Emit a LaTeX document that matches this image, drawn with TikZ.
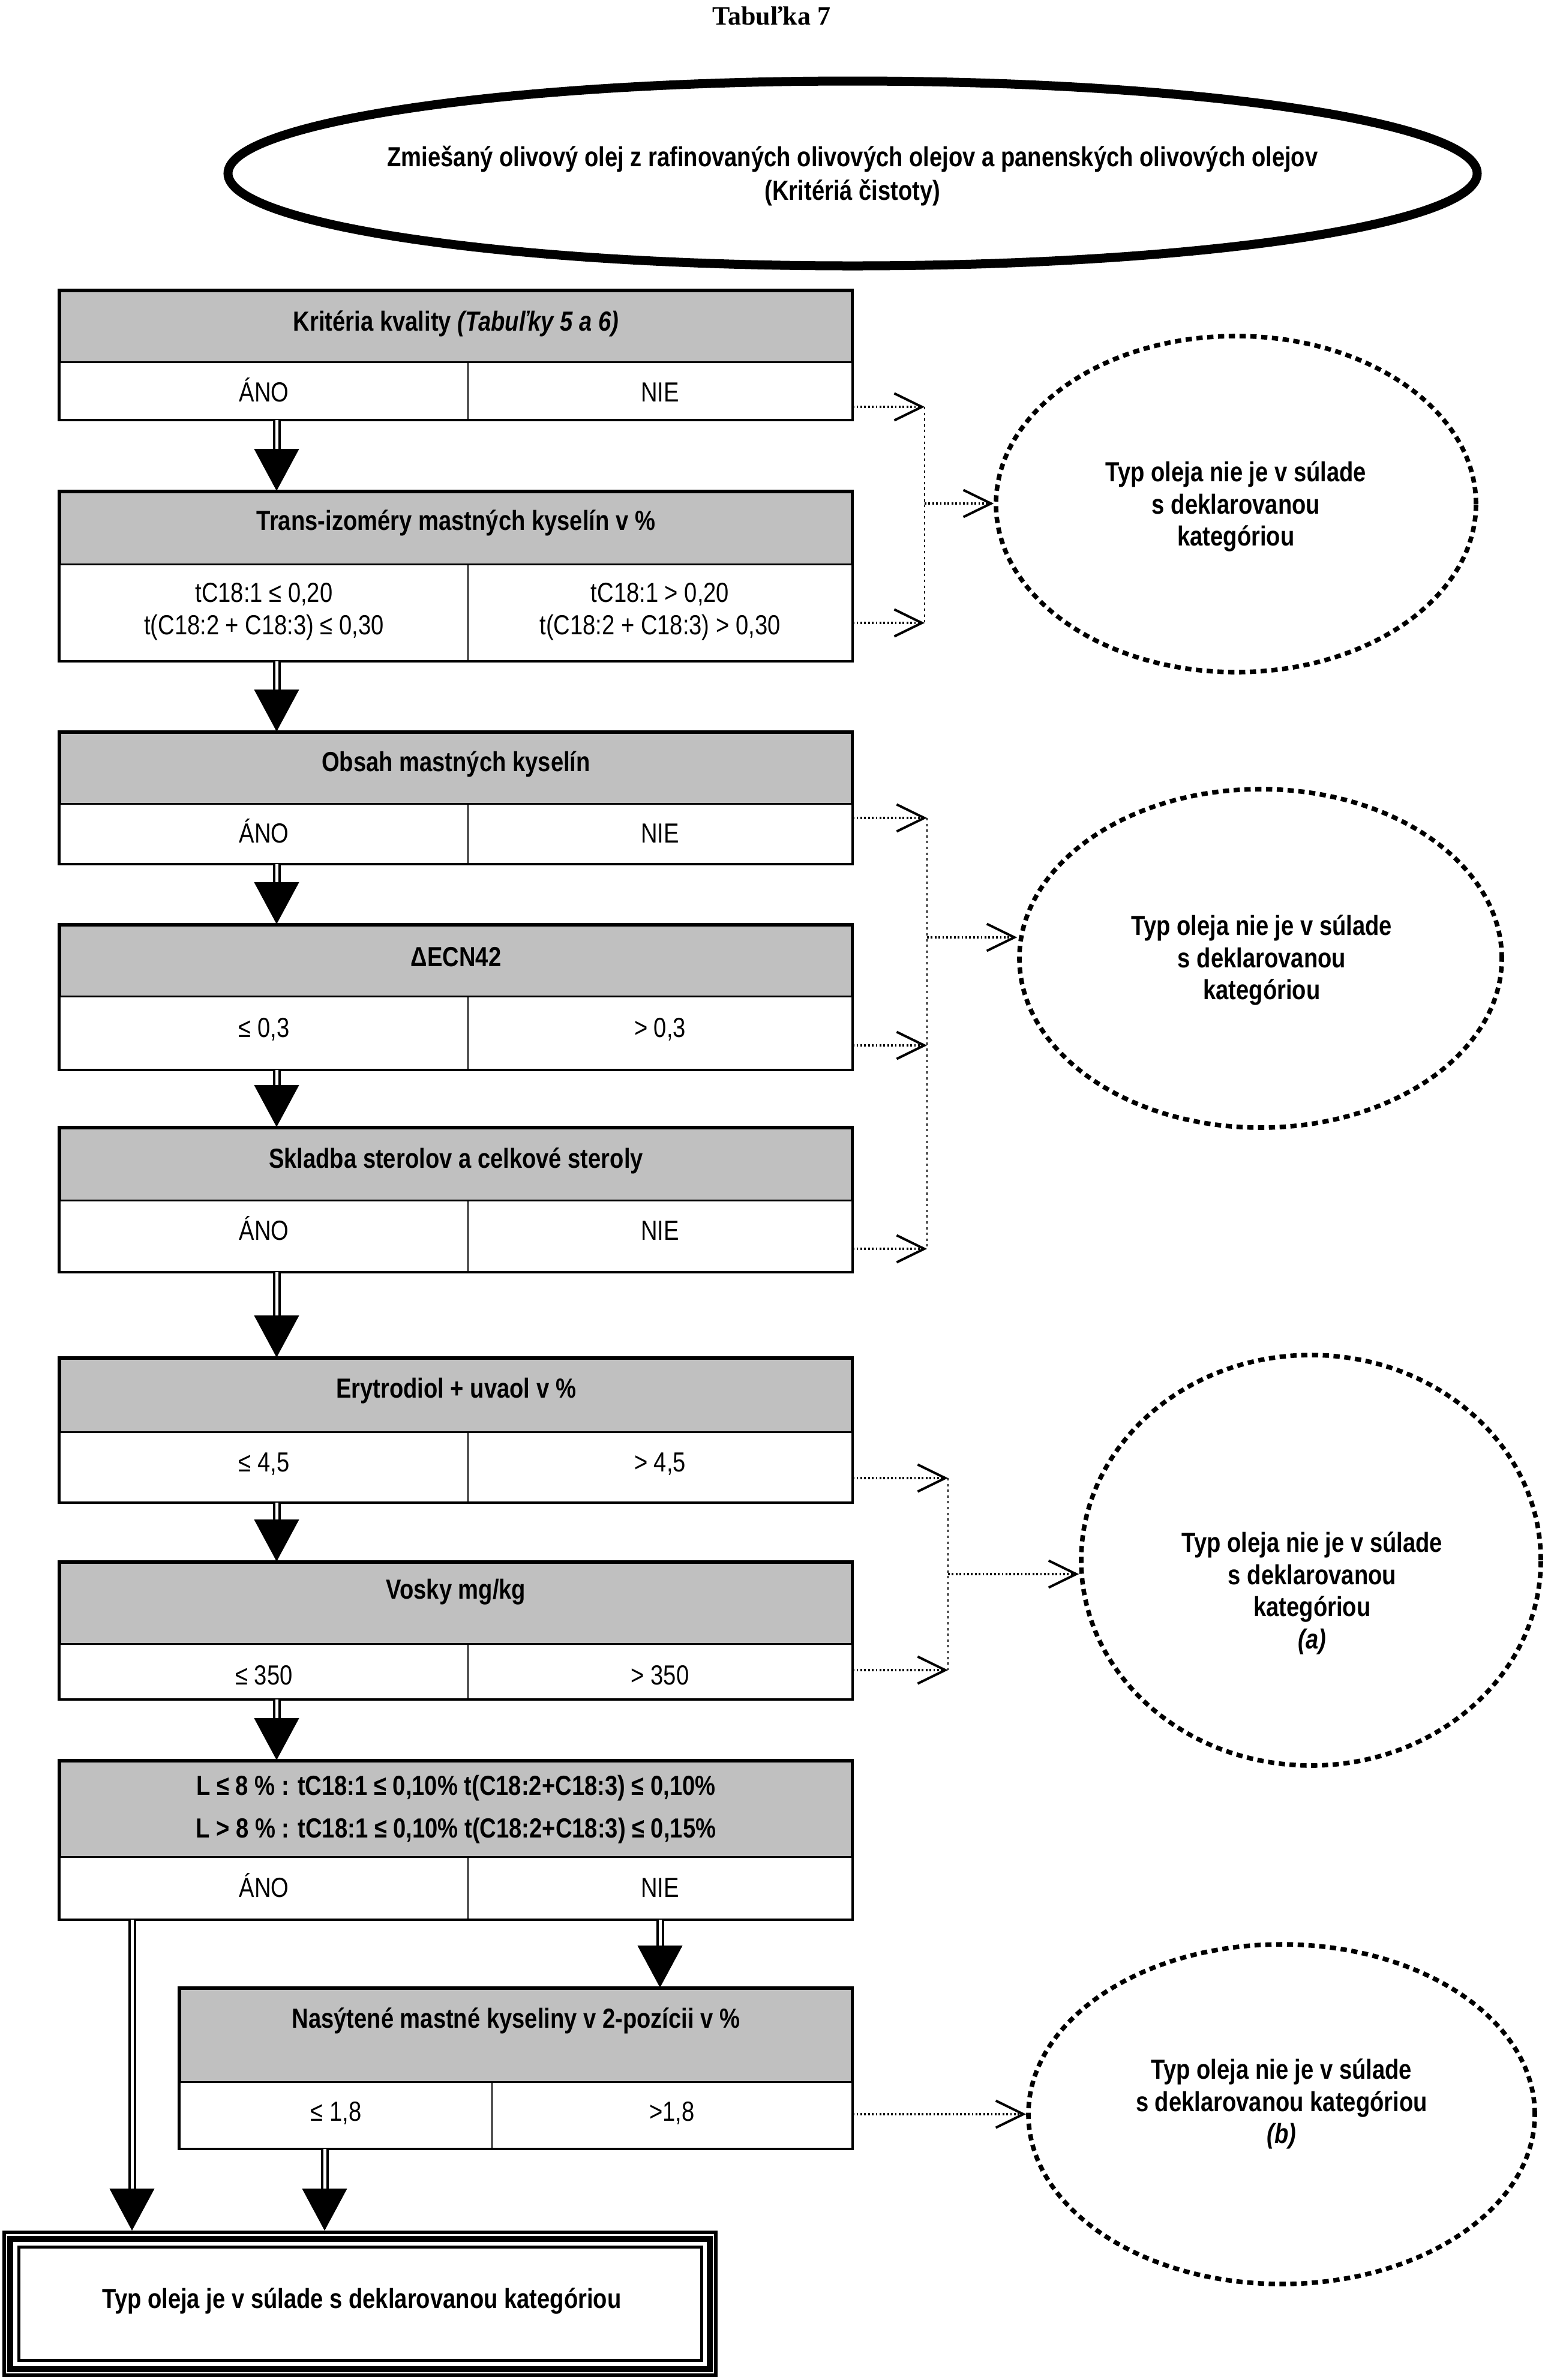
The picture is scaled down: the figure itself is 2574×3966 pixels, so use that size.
\documentclass[tikz,border=0pt]{standalone}
\usepackage{fontspec}
\setmainfont{Liberation Sans}[FakeStretch=0.83]
\newfontfamily\mytitlefont{Liberation Serif}
\usetikzlibrary{arrows.meta,shapes.geometric,fit,decorations.markings}
\definecolor{hdrgray}{RGB}{192,192,192}
\newcommand\myrfont{\fontsize{11.5pt}{13.4pt}\selectfont}
\newcommand\mybfont{\fontsize{11.5pt}{13.4pt}\selectfont\bfseries}
\begin{document}
\begin{tikzpicture}[x=0.25pt,y=-0.25pt,
 hdr/.style={draw, line width=1pt, fill=hdrgray, inner sep=0pt},
 cell/.style={draw, line width=0.6pt, fill=white, inner sep=0pt},
 ctxt/.style={align=center, inner sep=0pt, font=\myrfont},
 btxt/.style={inner sep=0pt, font=\myrfont, anchor=base},
 frm/.style={draw, line width=1pt},
 htxt/.style={align=center, inner sep=0pt, font=\mybfont},
 nok/.style={ellipse, draw, line width=1.9pt, dash pattern=on 2.6pt off 1.9pt, inner sep=0pt},
 nokarr/.style={line width=0.9pt, dash pattern=on 0.7pt off 0.9pt, -{Straight Barb[length=11.5pt,width=11.25pt,line width=1pt]}},
 vdot/.style={line width=0.6pt, dash pattern=on 1pt off 1.4pt},
 flow/.style={preaction={draw, double, line width=1pt, double distance=1.25pt, shorten >=9pt},
   postaction={decorate, decoration={markings, mark=at position 1 with {\fill[black] (0pt,0pt) -- (-17.5pt,9.4pt) -- (-17.5pt,-9.4pt) -- cycle;}}}}
]
\useasboundingbox (0,0) rectangle (2574,3966);

% title
\node[font=\mytitlefont\bfseries\fontsize{11pt}{13pt}\selectfont, inner sep=0pt] (title) at (1286,26) {Tabuľka 7};

% top ellipse
\node[ellipse, draw, line width=3.75pt, minimum width=520.5pt, minimum height=77pt, inner sep=0pt] (e0) at (1421,289) {};
\node[align=center, inner sep=0pt, font=\fontsize{11.5pt}{14pt}\selectfont\bfseries] (e0t) at (1421,293)
  {Zmiešaný olivový olej z rafinovaných olivových olejov a panenských olivových olejov\\(Kritériá čistoty)};

% box 1
\node[hdr, fit={(100,485) (1420,604)}] (h1) {};
\node[htxt] (h1t) at (760,539) {Kritéria kvality \textit{(Tabuľky 5 a 6)}};
\node[cell, fit={(100,604) (780,699)}] (c1L) {};
\node[cell, fit={(780,604) (1420,699)}] (c1R) {};
\node[btxt] (c1Lt) at (c1L |- 0,669) {ÁNO};
\node[btxt] (c1Rt) at (c1R |- 0,669) {NIE};
\draw[frm] (h1.north west) rectangle (c1R.south east);

% box 2
\node[hdr, fit={(100,820) (1420,941)}] (h2) {};
\node[htxt] (h2t) at (760,871) {Trans-izoméry mastných kyselín v \%};
\node[cell, fit={(100,941) (780,1101)}] (c2L) {};
\node[cell, fit={(780,941) (1420,1101)}] (c2R) {};
\node[ctxt] (c2Lt) at (c2L |- 0,1019) {tC18:1 ≤ 0,20\\t(C18:2 + C18:3) ≤ 0,30};
\node[ctxt] (c2Rt) at (c2R |- 0,1019) {tC18:1 > 0,20\\t(C18:2 + C18:3) > 0,30};
\draw[frm] (h2.north west) rectangle (c2R.south east);

% box 3
\node[hdr, fit={(100,1221) (1420,1340)}] (h3) {};
\node[htxt] (h3t) at (760,1273) {Obsah mastných kyselín};
\node[cell, fit={(100,1340) (780,1439)}] (c3L) {};
\node[cell, fit={(780,1340) (1420,1439)}] (c3R) {};
\node[btxt] (c3Lt) at (c3L |- 0,1404) {ÁNO};
\node[btxt] (c3Rt) at (c3R |- 0,1404) {NIE};
\draw[frm] (h3.north west) rectangle (c3R.south east);

% box 4
\node[hdr, fit={(100,1542) (1420,1661)}] (h4) {};
\node[htxt] (h4t) at (760,1595) {ΔECN42};
\node[cell, fit={(100,1661) (780,1782)}] (c4L) {};
\node[cell, fit={(780,1661) (1420,1782)}] (c4R) {};
\node[ctxt] (c4Lt) at (c4L |- 0,1715) {≤ 0,3};
\node[ctxt] (c4Rt) at (c4R |- 0,1715) {> 0,3};
\draw[frm] (h4.north west) rectangle (c4R.south east);

% box 5
\node[hdr, fit={(100,1880) (1420,2001)}] (h5) {};
\node[htxt] (h5t) at (760,1934) {Skladba sterolov a celkové steroly};
\node[cell, fit={(100,2001) (780,2119)}] (c5L) {};
\node[cell, fit={(780,2001) (1420,2119)}] (c5R) {};
\node[btxt] (c5Lt) at (c5L |- 0,2066) {ÁNO};
\node[btxt] (c5Rt) at (c5R |- 0,2066) {NIE};
\draw[frm] (h5.north west) rectangle (c5R.south east);

% box 6
\node[hdr, fit={(100,2264) (1420,2387)}] (h6) {};
\node[htxt] (h6t) at (760,2318) {Erytrodiol + uvaol v \%};
\node[cell, fit={(100,2387) (780,2503)}] (c6L) {};
\node[cell, fit={(780,2387) (1420,2503)}] (c6R) {};
\node[ctxt] (c6Lt) at (c6L |- 0,2440) {≤ 4,5};
\node[ctxt] (c6Rt) at (c6R |- 0,2440) {> 4,5};
\draw[frm] (h6.north west) rectangle (c6R.south east);

% box 7
\node[hdr, fit={(100,2604) (1420,2740)}] (h7) {};
\node[htxt] (h7t) at (760,2653) {Vosky mg/kg};
\node[cell, fit={(100,2740) (780,2831)}] (c7L) {};
\node[cell, fit={(780,2740) (1420,2831)}] (c7R) {};
\node[ctxt] (c7Lt) at (c7L |- 0,2792) {≤ 350};
\node[ctxt] (c7Rt) at (c7R |- 0,2792) {> 350};
\draw[frm] (h7.north west) rectangle (c7R.south east);

% box 8
\node[hdr, fit={(100,2935) (1420,3095)}] (h8) {};
\node[htxt, font=\fontsize{11.5pt}{17.75pt}\selectfont\bfseries] (h8t) at (760,3015)
  {L ≤ 8 \% : tC18:1 ≤ 0,10\% t(C18:2+C18:3) ≤ 0,10\%\\L > 8 \% : tC18:1 ≤ 0,10\% t(C18:2+C18:3) ≤ 0,15\%};
\node[cell, fit={(100,3095) (780,3198)}] (c8L) {};
\node[cell, fit={(780,3095) (1420,3198)}] (c8R) {};
\node[btxt] (c8Lt) at (c8L |- 0,3161) {ÁNO};
\node[btxt] (c8Rt) at (c8R |- 0,3161) {NIE};
\draw[frm] (h8.north west) rectangle (c8R.south east);

% box 9
\node[hdr, fit={(300,3314) (1420,3470)}] (h9) {};
\node[htxt] (h9t) at (860,3367) {Nasýtené mastné kyseliny v 2-pozícii v \%};
\node[cell, fit={(300,3470) (820,3580)}] (c9L) {};
\node[cell, fit={(820,3470) (1420,3580)}] (c9R) {};
\node[ctxt] (c9Lt) at (c9L |- 0,3521) {≤ 1,8};
\node[ctxt] (c9Rt) at (c9R |- 0,3521) {>1,8};
\draw[frm] (h9.north west) rectangle (c9R.south east);

% final box
\node[draw, line width=1.5pt, inner sep=0pt, fit={(7,3720) (1193,3958)}] (fin) {};
\draw[line width=2.5pt] ([shift={(13,14)}]fin.north west) rectangle ([shift={(-13,-13)}]fin.south east);
\draw[line width=1.25pt] ([shift={(27,27)}]fin.north west) rectangle ([shift={(-27,-28)}]fin.south east);
\node[htxt] (fint) at (603,3834) {Typ oleja je v súlade s deklarovanou kategóriou};

% rejection ellipses
\node[nok, minimum width=200pt, minimum height=140pt] (e1) at (2060,840) {};
\node[htxt] (e1t) at (2060,844) {Typ oleja nie je v súlade\\s deklarovanou\\kategóriou};
\node[nok, minimum width=201pt, minimum height=141pt] (e2) at (2101,1597) {};
\node[htxt] (e2t) at (2103,1600) {Typ oleja nie je v súlade\\s deklarovanou\\kategóriou};
\node[nok, minimum width=191.5pt, minimum height=171pt] (e3) at (2185,2600) {};
\node[htxt] (e3t) at (2187,2655) {Typ oleja nie je v súlade\\s deklarovanou\\kategóriou\\\textit{(a)}};
\node[nok, minimum width=211pt, minimum height=141.5pt] (e4) at (2136,3523) {};
\node[htxt] (e4t) at (2136,3506) {Typ oleja nie je v súlade\\s deklarovanou kategóriou\\\textit{(b)}};

% main flow arrows
\coordinate (ax) at (461,0);
\coordinate (bx) at (220,0);
\coordinate (dx) at (541,0);
\path[flow] (c1L.south -| ax) -- (h2.north -| ax);
\path[flow] (c2L.south -| ax) -- (h3.north -| ax);
\path[flow] (c3L.south -| ax) -- (h4.north -| ax);
\path[flow] (c4L.south -| ax) -- (h5.north -| ax);
\path[flow] (c5L.south -| ax) -- (h6.north -| ax);
\path[flow] (c6L.south -| ax) -- (h7.north -| ax);
\path[flow] (c7L.south -| ax) -- (h8.north -| ax);
\path[flow] (c8L.south -| bx) -- (fin.north -| bx);
\path[flow] (c8R.south) -- (h9.north -| c8R.south);
\path[flow] (c9L.south -| dx) -- (fin.north -| dx);

% group 1
\coordinate (t1) at (1541,678);
\coordinate (t2) at (1541,1038);
\coordinate (m1) at (1541,839);
\draw[nokarr] (c1R.east |- t1) -- (t1);
\draw[nokarr] (c2R.east |- t2) -- (t2);
\draw[vdot] (t1) -- (t2);
\draw[nokarr] (m1) -- (m1 -| e1.west);

% group 2
\coordinate (t3) at (1545,1363);
\coordinate (t4) at (1545,1742);
\coordinate (t5) at (1545,2081);
\coordinate (m2) at (1545,1562);
\draw[nokarr] (c3R.east |- t3) -- (t3);
\draw[nokarr] (c4R.east |- t4) -- (t4);
\draw[nokarr] (c5R.east |- t5) -- (t5);
\draw[vdot] (t3) -- (t5);
\draw[nokarr] (m2) -- (m2 -| e2.west);

% group 3
\coordinate (t6) at (1580,2463);
\coordinate (t7) at (1580,2783);
\coordinate (m3) at (1580,2623);
\draw[nokarr] (c6R.east |- t6) -- (t6);
\draw[nokarr] (c7R.east |- t7) -- (t7);
\draw[vdot] (t6) -- (t7);
\draw[nokarr] (m3) -- (m3 -| e3.west);

% group 4
\draw[nokarr] (c9R.east |- e4.west) -- (e4.west);
\end{tikzpicture}
\end{document}
